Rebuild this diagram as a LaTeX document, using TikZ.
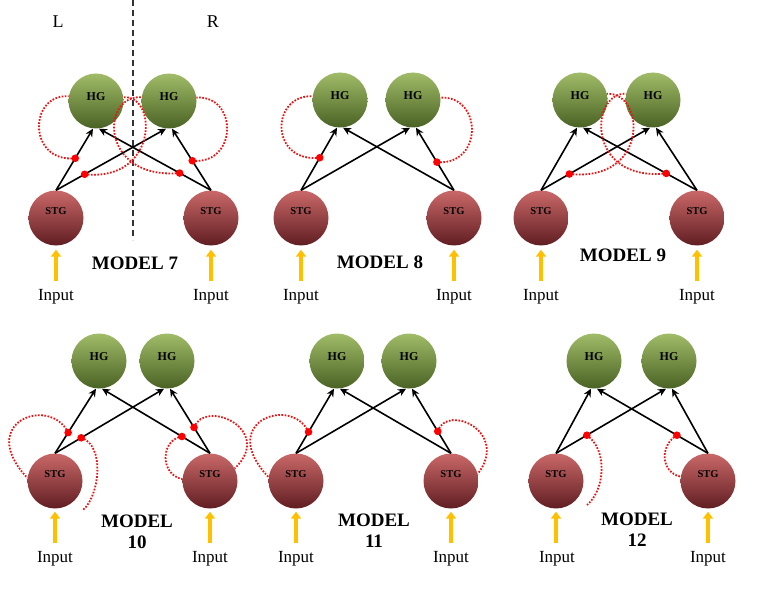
\documentclass[tikz,border=0pt]{standalone}
\usepackage{fontspec}
\setmainfont{Liberation Serif}
\usetikzlibrary{arrows.meta,calc}
\definecolor{hgtop}{RGB}{160,188,104}
\definecolor{hgmid}{RGB}{128,158,74}
\definecolor{hgbot}{RGB}{74,98,36}
\definecolor{stgtop}{RGB}{202,104,104}
\definecolor{stgmid}{RGB}{178,74,74}
\definecolor{stgbot}{RGB}{96,30,34}
\definecolor{inyel}{RGB}{255,192,0}
\definecolor{inhred}{RGB}{235,20,20}
\tikzset{
  hgnode/.style={circle, minimum size=55pt, inner sep=0pt,
    top color=hgtop, middle color=hgmid, bottom color=hgbot,
    font=\fontsize{12}{12}\selectfont\bfseries},
  stgnode/.style={circle, minimum size=55pt, inner sep=0pt,
    top color=stgtop, middle color=stgmid, bottom color=stgbot,
    font=\fontsize{10.5}{10.5}\selectfont\bfseries},
  exc/.style={-{Stealth[length=8pt,width=7.5pt]}, line width=1.6pt, black},
  inp/.style={-{Triangle[length=7pt,width=10pt]}, line width=3.5pt, inyel, shorten <=8pt},
  inh/.style={inhred, line width=1.8pt, dash pattern=on 1.7pt off 1.5pt},
  inlbl/.style={inner sep=0pt, font=\fontsize{17}{17}\selectfont},
  mlbl/.style={inner sep=0pt, align=center, font=\fontsize{19}{21}\selectfont\bfseries},
  sidelbl/.style={inner sep=0pt, font=\fontsize{18}{18}\selectfont},
  syn/.style={fill=red},
}
\begin{document}
\begin{tikzpicture}[x=1pt,y=-1pt]
\useasboundingbox (0,0) rectangle (769,591);

% ---------- MODEL 7 ----------
\node[sidelbl] (lL) at (58,22) {L};
\node[sidelbl] (lR) at (213,22) {R};
\coordinate (dtop) at (133,0);
\coordinate (dbot) at (133,240);
\draw[black!80, line width=1.2pt, dash pattern=on 6pt off 4pt] (dtop) -- (dbot);

\node[hgnode] (h7l) at (96,101) {\raisebox{8pt}{HG}};
\node[hgnode] (h7r) at (169,101) {\raisebox{8pt}{HG}};
\node[stgnode] (s7l) at (56,218) {\raisebox{14pt}{STG}};
\node[stgnode] (s7r) at (211,218) {\raisebox{14pt}{STG}};
\coordinate (t7ll) at ([xshift=-3pt]h7l.south);
\coordinate (t7lr) at ([xshift=3pt]h7l.south);
\coordinate (t7rl) at ([xshift=-3pt]h7r.south);
\coordinate (t7rr) at ([xshift=3pt]h7r.south);
\draw[exc] (s7l.north) -- (t7ll);
\draw[exc] (s7l.north) -- (t7rl);
\draw[exc] (s7r.north) -- (t7rr);
\draw[exc] (s7r.north) -- (t7lr);
\coordinate (d7a) at ($(s7l.north)!0.52!(t7ll)$);
\coordinate (d7b) at ($(s7l.north)!0.26!(t7rl)$);
\coordinate (d7c) at ($(s7r.north)!0.48!(t7rr)$);
\coordinate (d7d) at ($(s7r.north)!0.28!(t7lr)$);
\draw[inh] (d7a) .. controls (28,163) and (28,94) .. (h7l.170);
\draw[inh] (d7b) .. controls (158,182) and (158,95) .. (h7l.8);
\draw[inh] (d7c) .. controls (238,165) and (238,95) .. (h7r.7);
\draw[inh] (d7d) .. controls (100,180) and (100,95) .. (h7r.172);
\foreach \d in {d7a,d7b,d7c,d7d} \fill[syn] (\d) circle (3.8pt);
\node[inlbl] (i7l) at (56,297) {Input};
\node[inlbl] (i7r) at (211,297) {Input};
\draw[inp] (i7l.north) -- ([yshift=-4pt]s7l.south);
\draw[inp] (i7r.north) -- ([yshift=-4pt]s7r.south);
\node[mlbl] (m7) at (135,263) {MODEL 7};

% ---------- MODEL 8 ----------
\node[hgnode] (h8l) at (340,100) {\raisebox{8pt}{HG}};
\node[hgnode] (h8r) at (413,100) {\raisebox{8pt}{HG}};
\node[stgnode] (s8l) at (301,218) {\raisebox{14pt}{STG}};
\node[stgnode] (s8r) at (454,218) {\raisebox{14pt}{STG}};
\coordinate (t8ll) at ([xshift=-3pt]h8l.south);
\coordinate (t8lr) at ([xshift=3pt]h8l.south);
\coordinate (t8rl) at ([xshift=-3pt]h8r.south);
\coordinate (t8rr) at ([xshift=3pt]h8r.south);
\draw[exc] (s8l.north) -- (t8ll);
\draw[exc] (s8l.north) -- (t8rl);
\draw[exc] (s8r.north) -- (t8rr);
\draw[exc] (s8r.north) -- (t8lr);
\coordinate (d8a) at ($(s8l.north)!0.52!(t8ll)$);
\coordinate (d8b) at ($(s8r.north)!0.45!(t8rr)$);
\draw[inh] (d8a) .. controls (270,163) and (270,95) .. (h8l.172);
\draw[inh] (d8b) .. controls (483,166) and (483,96) .. (h8r.5);
\foreach \d in {d8a,d8b} \fill[syn] (\d) circle (3.8pt);
\node[inlbl] (i8l) at (301,297) {Input};
\node[inlbl] (i8r) at (454,297) {Input};
\draw[inp] (i8l.north) -- ([yshift=-4pt]s8l.south);
\draw[inp] (i8r.north) -- ([yshift=-4pt]s8r.south);
\node[mlbl] (m8) at (380,262) {MODEL 8};

% ---------- MODEL 9 ----------
\node[hgnode] (h9l) at (580,100) {\raisebox{8pt}{HG}};
\node[hgnode] (h9r) at (653,100) {\raisebox{8pt}{HG}};
\node[stgnode] (s9l) at (541,218) {\raisebox{14pt}{STG}};
\node[stgnode] (s9r) at (697,218) {\raisebox{14pt}{STG}};
\coordinate (t9ll) at ([xshift=-3pt]h9l.south);
\coordinate (t9lr) at ([xshift=3pt]h9l.south);
\coordinate (t9rl) at ([xshift=-3pt]h9r.south);
\coordinate (t9rr) at ([xshift=3pt]h9r.south);
\draw[exc] (s9l.north) -- (t9ll);
\draw[exc] (s9l.north) -- (t9rl);
\draw[exc] (s9r.north) -- (t9rr);
\draw[exc] (s9r.north) -- (t9lr);
\coordinate (d9a) at ($(s9l.north)!0.26!(t9rl)$);
\coordinate (d9b) at ($(s9r.north)!0.27!(t9lr)$);
\draw[inh] (d9a) .. controls (650,182) and (645,92) .. (h9l.13);
\draw[inh] (d9b) .. controls (585,182) and (590,92) .. (h9r.167);
\foreach \d in {d9a,d9b} \fill[syn] (\d) circle (3.8pt);
\node[inlbl] (i9l) at (541,297) {Input};
\node[inlbl] (i9r) at (697,297) {Input};
\draw[inp] (i9l.north) -- ([yshift=-4pt]s9l.south);
\draw[inp] (i9r.north) -- ([yshift=-4pt]s9r.south);
\node[mlbl] (m9) at (623,255) {MODEL 9};

% ---------- MODEL 10 ----------
\node[hgnode] (h10l) at (99,361) {\raisebox{8pt}{HG}};
\node[hgnode] (h10r) at (167,361) {\raisebox{8pt}{HG}};
\node[stgnode] (s10l) at (55,481) {\raisebox{14pt}{STG}};
\node[stgnode] (s10r) at (210,481) {\raisebox{14pt}{STG}};
\coordinate (t10ll) at ([xshift=-3pt]h10l.south);
\coordinate (t10lr) at ([xshift=3pt]h10l.south);
\coordinate (t10rl) at ([xshift=-3pt]h10r.south);
\coordinate (t10rr) at ([xshift=3pt]h10r.south);
\draw[exc] (s10l.north) -- (t10ll);
\draw[exc] (s10l.north) -- (t10rl);
\draw[exc] (s10r.north) -- (t10rr);
\draw[exc] (s10r.north) -- (t10lr);
\coordinate (d10a) at ($(s10l.north)!0.32!(t10ll)$);
\coordinate (d10b) at ($(s10l.north)!0.24!(t10rl)$);
\coordinate (d10c) at ($(s10r.north)!0.40!(t10rr)$);
\coordinate (d10d) at ($(s10r.north)!0.26!(t10lr)$);
\coordinate (e10) at (83,510);
\draw[inh] (d10a) .. controls (50,395) and (-25,422) .. (s10l.174);
\draw[inh] (d10b) .. controls (105,445) and (100,495) .. (e10);
\draw[inh] (d10c) .. controls (205,398) and (275,430) .. (s10r.27);
\draw[inh] (d10d) .. controls (160,440) and (160,475) .. (s10r.176);
\foreach \d in {d10a,d10b,d10c,d10d} \fill[syn] (\d) circle (3.8pt);
\node[inlbl] (i10l) at (55,559) {Input};
\node[inlbl] (i10r) at (210,559) {Input};
\draw[inp] (i10l.north) -- ([yshift=-3pt]s10l.south);
\draw[inp] (i10r.north) -- ([yshift=-3pt]s10r.south);
\node[mlbl] (m10) at (137,532) {MODEL\\10};

% ---------- MODEL 11 ----------
\node[hgnode] (h11l) at (337,361) {\raisebox{8pt}{HG}};
\node[hgnode] (h11r) at (409,361) {\raisebox{8pt}{HG}};
\node[stgnode] (s11l) at (296,481) {\raisebox{14pt}{STG}};
\node[stgnode] (s11r) at (451,481) {\raisebox{14pt}{STG}};
\coordinate (t11ll) at ([xshift=-3pt]h11l.south);
\coordinate (t11lr) at ([xshift=3pt]h11l.south);
\coordinate (t11rl) at ([xshift=-3pt]h11r.south);
\coordinate (t11rr) at ([xshift=3pt]h11r.south);
\draw[exc] (s11l.north) -- (t11ll);
\draw[exc] (s11l.north) -- (t11rl);
\draw[exc] (s11r.north) -- (t11rr);
\draw[exc] (s11r.north) -- (t11lr);
\coordinate (d11a) at ($(s11l.north)!0.33!(t11ll)$);
\coordinate (d11b) at ($(s11r.north)!0.34!(t11rr)$);
\draw[inh] (d11a) .. controls (291,395) and (216,422) .. (s11l.172);
\draw[inh] (d11b) .. controls (447,403) and (510,432) .. (s11r.15);
\foreach \d in {d11a,d11b} \fill[syn] (\d) circle (3.8pt);
\node[inlbl] (i11l) at (296,559) {Input};
\node[inlbl] (i11r) at (451,559) {Input};
\draw[inp] (i11l.north) -- ([yshift=-3pt]s11l.south);
\draw[inp] (i11r.north) -- ([yshift=-3pt]s11r.south);
\node[mlbl] (m11) at (374,531) {MODEL\\11};

% ---------- MODEL 12 ----------
\node[hgnode] (h12l) at (594,361) {\raisebox{8pt}{HG}};
\node[hgnode] (h12r) at (669,361) {\raisebox{8pt}{HG}};
\node[stgnode] (s12l) at (556,481) {\raisebox{14pt}{STG}};
\node[stgnode] (s12r) at (708,481) {\raisebox{14pt}{STG}};
\coordinate (t12ll) at ([xshift=-3pt]h12l.south);
\coordinate (t12lr) at ([xshift=3pt]h12l.south);
\coordinate (t12rl) at ([xshift=-3pt]h12r.south);
\coordinate (t12rr) at ([xshift=3pt]h12r.south);
\draw[exc] (s12l.north) -- (t12ll);
\draw[exc] (s12l.north) -- (t12rl);
\draw[exc] (s12r.north) -- (t12rr);
\draw[exc] (s12r.north) -- (t12lr);
\coordinate (d12a) at ($(s12l.north)!0.28!(t12rl)$);
\coordinate (d12b) at ($(s12r.north)!0.28!(t12lr)$);
\coordinate (e12) at (587,505);
\draw[inh] (d12a) .. controls (608,450) and (605,490) .. (e12);
\draw[inh] (d12b) .. controls (660,445) and (660,472) .. (s12r.171);
\foreach \d in {d12a,d12b} \fill[syn] (\d) circle (3.8pt);
\node[inlbl] (i12l) at (557,559) {Input};
\node[inlbl] (i12r) at (708,559) {Input};
\draw[inp] (i12l.north -| s12l.south) -- ([yshift=-3pt]s12l.south);
\draw[inp] (i12r.north -| s12r.south) -- ([yshift=-3pt]s12r.south);
\node[mlbl] (m12) at (637,530) {MODEL\\12};
\end{tikzpicture}
\end{document}
